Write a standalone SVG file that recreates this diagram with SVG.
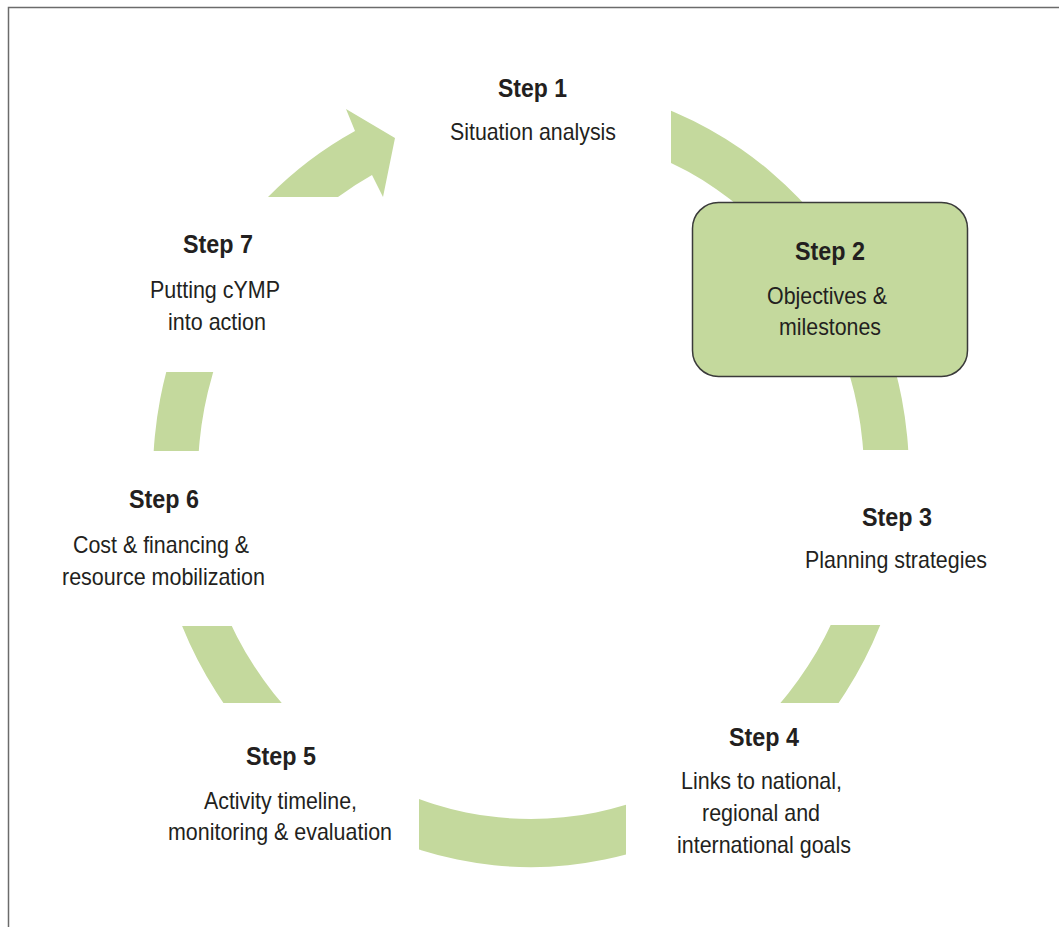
<svg xmlns="http://www.w3.org/2000/svg" width="1059" height="927" viewBox="0 0 1059 927">
  <style>
    .frame { fill: none; stroke: #6b6b6b; stroke-width: 1.5; }
    .band { fill: #c4d99d; fill-rule: evenodd; }
    .hl { fill: #c4d99d; stroke: #3a3a3a; stroke-width: 1.5; }
    text { font-family: "Liberation Sans Narrow", "Arial Narrow", "Liberation Sans", Arial, sans-serif; fill: #231f20; text-anchor: middle; }
    .t { font-weight: bold; font-size: 26px; }
    .d { font-size: 24px; }
  </style>
  <defs>
    <!-- visible stretches of the cycle band -->
    <clipPath id="bandShow">
      <rect x="671" y="60" width="300" height="150"/>
      <rect x="780" y="370" width="200" height="80"/>
      <rect x="760" y="625" width="200" height="78"/>
      <rect x="419" y="760" width="207" height="120"/>
      <rect x="140" y="626" width="160" height="77"/>
      <rect x="120" y="372" width="120" height="79"/>
    </clipPath>
  </defs>

  <rect class="frame" x="8.5" y="7.5" width="1100" height="1000"/>

  <g id="connectors">
    <path class="band" clip-path="url(#bandShow)"
      d="M 153 475 A 378 392 0 1 1 909 475 A 378 392 0 1 1 153 475 Z
         M 198 475 A 333 344 0 1 1 864 475 A 333 344 0 1 1 198 475 Z"/>
    <!-- arrowhead closing the cycle into Step 1 -->
    <path class="band" d="M 268 197 A 378 392 0 0 1 355 131 L 346 109 L 395 138 L 383 197 L 372 175 A 333 344 0 0 0 338 197 Z"/>
  </g>

  <g id="step1">
    <text class="t" x="532.5" y="97" textLength="69" lengthAdjust="spacingAndGlyphs">Step 1</text>
    <text class="d" x="533" y="140" textLength="166" lengthAdjust="spacingAndGlyphs">Situation analysis</text>
  </g>

  <g id="step2">
    <rect class="hl" x="692.5" y="202.5" width="275" height="174" rx="26"/>
    <text class="t" x="830" y="260" textLength="70" lengthAdjust="spacingAndGlyphs">Step 2</text>
    <text class="d" x="827" y="304" textLength="120" lengthAdjust="spacingAndGlyphs">Objectives &amp;</text>
    <text class="d" x="830" y="335" textLength="102" lengthAdjust="spacingAndGlyphs">milestones</text>
  </g>

  <g id="step3">
    <text class="t" x="897" y="526" textLength="70" lengthAdjust="spacingAndGlyphs">Step 3</text>
    <text class="d" x="896" y="568" textLength="182" lengthAdjust="spacingAndGlyphs">Planning strategies</text>
  </g>

  <g id="step4">
    <text class="t" x="764" y="746" textLength="70" lengthAdjust="spacingAndGlyphs">Step 4</text>
    <text class="d" x="761.5" y="789" textLength="161" lengthAdjust="spacingAndGlyphs">Links to national,</text>
    <text class="d" x="761" y="821" textLength="118" lengthAdjust="spacingAndGlyphs">regional and</text>
    <text class="d" x="764" y="853" textLength="174" lengthAdjust="spacingAndGlyphs">international goals</text>
  </g>

  <g id="step5">
    <text class="t" x="281" y="765" textLength="70" lengthAdjust="spacingAndGlyphs">Step 5</text>
    <text class="d" x="280.5" y="809" textLength="153" lengthAdjust="spacingAndGlyphs">Activity timeline,</text>
    <text class="d" x="280" y="840" textLength="224" lengthAdjust="spacingAndGlyphs">monitoring &amp; evaluation</text>
  </g>

  <g id="step6">
    <text class="t" x="164" y="508" textLength="70" lengthAdjust="spacingAndGlyphs">Step 6</text>
    <text class="d" x="161" y="553" textLength="176" lengthAdjust="spacingAndGlyphs">Cost &amp; financing &amp;</text>
    <text class="d" x="163.5" y="585" textLength="203" lengthAdjust="spacingAndGlyphs">resource mobilization</text>
  </g>

  <g id="step7">
    <text class="t" x="218" y="253" textLength="70" lengthAdjust="spacingAndGlyphs">Step 7</text>
    <text class="d" x="215" y="298" textLength="130" lengthAdjust="spacingAndGlyphs">Putting cYMP</text>
    <text class="d" x="217" y="330" textLength="98" lengthAdjust="spacingAndGlyphs">into action</text>
  </g>
</svg>
